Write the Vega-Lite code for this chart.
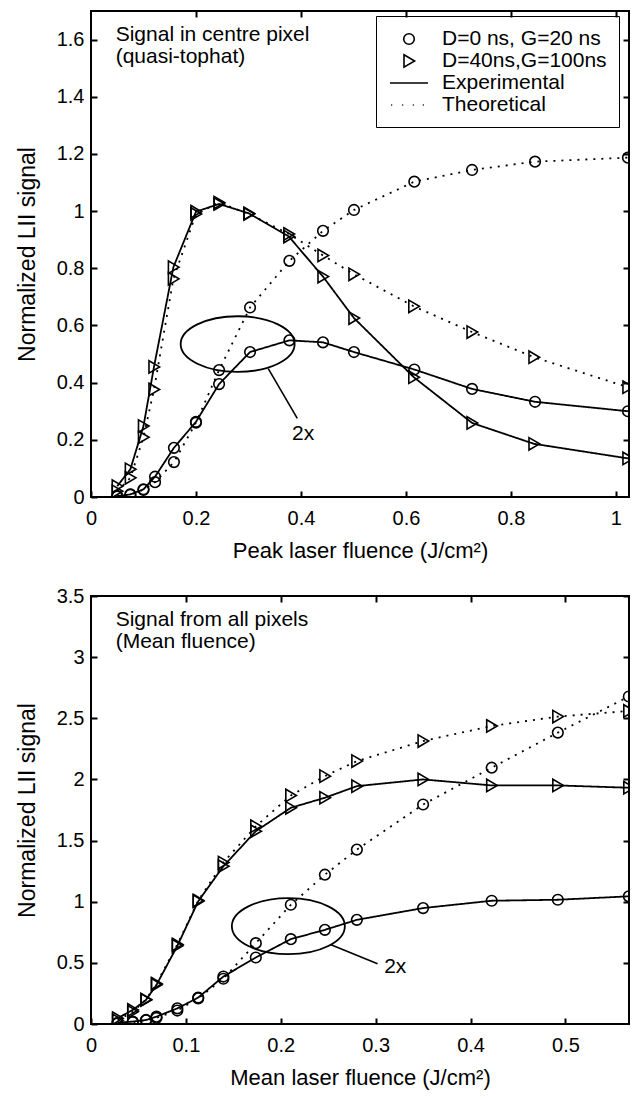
{
  "$schema": "https://vega.github.io/schema/vega-lite/v6.json",
  "background": "white",
  "padding": {"left": 15, "top": 9, "right": 2, "bottom": 4},
  "config": {
    "view": {"stroke": "black", "strokeWidth": 2},
    "font": "Liberation Sans",
    "axis": {"grid": false, "domain": false, "labelColor": "black", "labelFontSize": 20, "labelFont": "Liberation Sans", "titleFont": "Liberation Sans", "titleFontSize": 22, "titleFontWeight": "normal", "titleColor": "black", "labelFlush": false, "labelOverlap": false},
    "text": {"font": "Liberation Sans", "fontSize": 21, "color": "black"}
  },
  "datasets": {
    "top": [
      {"x":0.05,"y":0.003,"s":"A","t":"E"},{"x":0.075,"y":0.009,"s":"A","t":"E"},{"x":0.1,"y":0.027,"s":"A","t":"E"},{"x":0.122,"y":0.071,"s":"A","t":"E"},{"x":0.158,"y":0.172,"s":"A","t":"E"},{"x":0.2,"y":0.263,"s":"A","t":"E"},{"x":0.244,"y":0.395,"s":"A","t":"E"},{"x":0.303,"y":0.507,"s":"A","t":"E"},{"x":0.378,"y":0.548,"s":"A","t":"E"},{"x":0.442,"y":0.541,"s":"A","t":"E"},{"x":0.501,"y":0.507,"s":"A","t":"E"},{"x":0.616,"y":0.446,"s":"A","t":"E"},{"x":0.726,"y":0.378,"s":"A","t":"E"},{"x":0.846,"y":0.333,"s":"A","t":"E"},{"x":1.023,"y":0.3,"s":"A","t":"E"},
      {"x":0.05,"y":0.002,"s":"A","t":"T"},{"x":0.075,"y":0.008,"s":"A","t":"T"},{"x":0.1,"y":0.025,"s":"A","t":"T"},{"x":0.122,"y":0.052,"s":"A","t":"T"},{"x":0.158,"y":0.122,"s":"A","t":"T"},{"x":0.2,"y":0.26,"s":"A","t":"T"},{"x":0.244,"y":0.444,"s":"A","t":"T"},{"x":0.303,"y":0.663,"s":"A","t":"T"},{"x":0.378,"y":0.826,"s":"A","t":"T"},{"x":0.442,"y":0.931,"s":"A","t":"T"},{"x":0.501,"y":1.004,"s":"A","t":"T"},{"x":0.616,"y":1.103,"s":"A","t":"T"},{"x":0.726,"y":1.144,"s":"A","t":"T"},{"x":0.846,"y":1.173,"s":"A","t":"T"},{"x":1.023,"y":1.187,"s":"A","t":"T"},
      {"x":0.05,"y":0.038,"s":"B","t":"E"},{"x":0.075,"y":0.097,"s":"B","t":"E"},{"x":0.1,"y":0.248,"s":"B","t":"E"},{"x":0.12,"y":0.455,"s":"B","t":"E"},{"x":0.157,"y":0.804,"s":"B","t":"E"},{"x":0.2,"y":0.998,"s":"B","t":"E"},{"x":0.244,"y":1.025,"s":"B","t":"E"},{"x":0.301,"y":0.992,"s":"B","t":"E"},{"x":0.377,"y":0.911,"s":"B","t":"E"},{"x":0.442,"y":0.771,"s":"B","t":"E"},{"x":0.501,"y":0.626,"s":"B","t":"E"},{"x":0.615,"y":0.419,"s":"B","t":"E"},{"x":0.726,"y":0.259,"s":"B","t":"E"},{"x":0.844,"y":0.186,"s":"B","t":"E"},{"x":1.023,"y":0.135,"s":"B","t":"E"},
      {"x":0.05,"y":0.02,"s":"B","t":"T"},{"x":0.075,"y":0.067,"s":"B","t":"T"},{"x":0.1,"y":0.209,"s":"B","t":"T"},{"x":0.12,"y":0.376,"s":"B","t":"T"},{"x":0.157,"y":0.763,"s":"B","t":"T"},{"x":0.2,"y":0.99,"s":"B","t":"T"},{"x":0.244,"y":1.03,"s":"B","t":"T"},{"x":0.301,"y":0.99,"s":"B","t":"T"},{"x":0.377,"y":0.92,"s":"B","t":"T"},{"x":0.442,"y":0.845,"s":"B","t":"T"},{"x":0.501,"y":0.779,"s":"B","t":"T"},{"x":0.615,"y":0.667,"s":"B","t":"T"},{"x":0.726,"y":0.577,"s":"B","t":"T"},{"x":0.844,"y":0.489,"s":"B","t":"T"},{"x":1.023,"y":0.384,"s":"B","t":"T"}
    ],
    "bottom": [
      {"x":0.028,"y":0.01,"s":"A","t":"E"},{"x":0.044,"y":0.02,"s":"A","t":"E"},{"x":0.058,"y":0.033,"s":"A","t":"E"},{"x":0.069,"y":0.06,"s":"A","t":"E"},{"x":0.091,"y":0.128,"s":"A","t":"E"},{"x":0.113,"y":0.216,"s":"A","t":"E"},{"x":0.1395,"y":0.388,"s":"A","t":"E"},{"x":0.1737,"y":0.544,"s":"A","t":"E"},{"x":0.2106,"y":0.694,"s":"A","t":"E"},{"x":0.2465,"y":0.77,"s":"A","t":"E"},{"x":0.2802,"y":0.852,"s":"A","t":"E"},{"x":0.35,"y":0.948,"s":"A","t":"E"},{"x":0.4223,"y":1.008,"s":"A","t":"E"},{"x":0.492,"y":1.016,"s":"A","t":"E"},{"x":0.5668,"y":1.044,"s":"A","t":"E"},
      {"x":0.028,"y":0.005,"s":"A","t":"T"},{"x":0.044,"y":0.015,"s":"A","t":"T"},{"x":0.058,"y":0.03,"s":"A","t":"T"},{"x":0.069,"y":0.05,"s":"A","t":"T"},{"x":0.091,"y":0.11,"s":"A","t":"T"},{"x":0.113,"y":0.21,"s":"A","t":"T"},{"x":0.1395,"y":0.37,"s":"A","t":"T"},{"x":0.1737,"y":0.661,"s":"A","t":"T"},{"x":0.2106,"y":0.975,"s":"A","t":"T"},{"x":0.2465,"y":1.221,"s":"A","t":"T"},{"x":0.2802,"y":1.426,"s":"A","t":"T"},{"x":0.35,"y":1.795,"s":"A","t":"T"},{"x":0.4223,"y":2.096,"s":"A","t":"T"},{"x":0.492,"y":2.383,"s":"A","t":"T"},{"x":0.5668,"y":2.678,"s":"A","t":"T"},
      {"x":0.028,"y":0.047,"s":"B","t":"E"},{"x":0.044,"y":0.115,"s":"B","t":"E"},{"x":0.058,"y":0.197,"s":"B","t":"E"},{"x":0.069,"y":0.32,"s":"B","t":"E"},{"x":0.091,"y":0.639,"s":"B","t":"E"},{"x":0.113,"y":1.003,"s":"B","t":"E"},{"x":0.1395,"y":1.29,"s":"B","t":"E"},{"x":0.1737,"y":1.577,"s":"B","t":"E"},{"x":0.2106,"y":1.768,"s":"B","t":"E"},{"x":0.2465,"y":1.85,"s":"B","t":"E"},{"x":0.2802,"y":1.945,"s":"B","t":"E"},{"x":0.35,"y":2.0,"s":"B","t":"E"},{"x":0.4223,"y":1.951,"s":"B","t":"E"},{"x":0.492,"y":1.951,"s":"B","t":"E"},{"x":0.5668,"y":1.932,"s":"B","t":"E"},
      {"x":0.028,"y":0.03,"s":"B","t":"T"},{"x":0.044,"y":0.1,"s":"B","t":"T"},{"x":0.058,"y":0.2,"s":"B","t":"T"},{"x":0.069,"y":0.33,"s":"B","t":"T"},{"x":0.091,"y":0.65,"s":"B","t":"T"},{"x":0.113,"y":1.01,"s":"B","t":"T"},{"x":0.1395,"y":1.32,"s":"B","t":"T"},{"x":0.1737,"y":1.617,"s":"B","t":"T"},{"x":0.2106,"y":1.869,"s":"B","t":"T"},{"x":0.2465,"y":2.027,"s":"B","t":"T"},{"x":0.2802,"y":2.15,"s":"B","t":"T"},{"x":0.35,"y":2.314,"s":"B","t":"T"},{"x":0.4223,"y":2.437,"s":"B","t":"T"},{"x":0.492,"y":2.514,"s":"B","t":"T"},{"x":0.5668,"y":2.56,"s":"B","t":"T"}
    ],
    "topNotes": [
      {"x":0.047,"y":1.616,"txt":"Signal in centre pixel"},
      {"x":0.047,"y":1.539,"txt":"(quasi-tophat)"},
      {"x":0.383,"y":0.219,"txt":"2x"}
    ],
    "bottomNotes": [
      {"x":0.026,"y":3.303,"txt":"Signal from all pixels"},
      {"x":0.026,"y":3.125,"txt":"(Mean fluence)"},
      {"x":0.309,"y":0.463,"txt":"2x"}
    ],
    "topEllipse": [{"x":0.2794,"y":0.535}],
    "topLeader": [{"x":0.3377,"y":0.4488,"x2":0.393,"y2":0.2747}],
    "bottomEllipse": [{"x":0.208,"y":0.8}],
    "bottomLeader": [{"x":0.2529,"y":0.6475,"x2":0.302,"y2":0.492}]
  },
  "resolve": {"scale": {"shape": "independent", "strokeDash": "independent"}, "legend": {"shape": "independent", "strokeDash": "independent"}},
  "spacing": 23,
  "vconcat": [
    {
      "width": 538,
      "height": 486,
      "resolve": {"axis": {"x": "independent", "y": "independent"}},
      "layer": [
        {
          "data": {"name": "top"},
          "mark": {"type": "line", "clip": true, "color": "black", "strokeWidth": 1.8},
          "encoding": {
            "x": {"field": "x", "type": "quantitative", "scale": {"domain": [0, 1.025], "nice": false, "zero": false}, "axis": {"orient": "bottom", "values": [0, 0.2, 0.4, 0.6, 0.8, 1], "format": "~g", "ticks": true, "tickSize": 6, "tickWidth": 2, "tickColor": "black", "offset": -6, "zindex": 2, "labelPadding": 11, "title": "Peak laser fluence (J/cm²)", "titlePadding": 12}},
            "y": {"field": "y", "type": "quantitative", "scale": {"domain": [0, 1.7], "nice": false}, "axis": {"orient": "left", "values": [0, 0.2, 0.4, 0.6, 0.8, 1, 1.2, 1.4, 1.6], "format": "~g", "ticks": true, "tickSize": 6, "tickWidth": 2, "tickColor": "black", "offset": -6, "zindex": 2, "labelPadding": 7, "title": "Normalized LII signal", "titleFontSize": 23, "titlePadding": 17}},
            "detail": {"field": "s"},
            "strokeDash": {"field": "t", "type": "nominal", "scale": {"domain": ["E", "T"], "range": [[1, 0], [2, 6]]}, "legend": null}
          }
        },
        {
          "data": {"name": "top"},
          "mark": {"type": "point", "clip": true, "filled": false, "color": "black", "size": 400, "strokeWidth": 1.6, "opacity": 1},
          "encoding": {
            "x": {"field": "x", "type": "quantitative", "axis": {"orient": "top", "values": [0.2, 0.4, 0.6, 0.8, 1], "labels": false, "title": null, "ticks": true, "tickSize": 6, "tickWidth": 2, "tickColor": "black", "offset": -6, "zindex": 2}},
            "y": {"field": "y", "type": "quantitative", "axis": {"orient": "right", "values": [0.2, 0.4, 0.6, 0.8, 1, 1.2, 1.4, 1.6], "labels": false, "title": null, "ticks": true, "tickSize": 6, "tickWidth": 2, "tickColor": "black", "offset": -6, "zindex": 2}},
            "shape": {
              "field": "s", "type": "nominal",
              "scale": {"domain": ["A", "B", "E", "T"], "range": ["M-0.53,0A0.53,0.53,0,1,0,0.53,0A0.53,0.53,0,1,0,-0.53,0", "M-0.5,-0.62L0.56,0L-0.5,0.62Z", "M-1.9,0L1.9,0", "M-1.78,0L-1.68,0M-0.68,0L-0.58,0M0.38,0L0.48,0M1.38,0L1.48,0"]},
              "legend": {"title": null, "orient": "none", "legendX": 285, "legendY": 5, "labelExpr": "datum.label == 'A' ? 'D=0 ns, G=20 ns' : datum.label == 'B' ? 'D=40ns,G=100ns' : datum.label == 'E' ? 'Experimental' : 'Theoretical'", "symbolSize": 400, "symbolStrokeWidth": 1.6, "symbolStrokeColor": "black", "symbolFillColor": "transparent", "symbolOffset": 10, "labelOffset": 22, "labelFontSize": 21, "labelFont": "Liberation Sans", "labelColor": "black", "labelLimit": 0, "padding": 12, "rowPadding": 1, "strokeColor": "black", "fillColor": "white"}
            }
          }
        },
        {
          "data": {"name": "topEllipse"},
          "mark": {"type": "point", "filled": false, "color": "black", "strokeWidth": 1.8, "opacity": 1, "size": 12996, "shape": "M-1,0A1,0.488,0,1,1,1,0A1,0.488,0,1,1,-1,0"},
          "encoding": {"x": {"field": "x", "type": "quantitative", "axis": null}, "y": {"field": "y", "type": "quantitative", "axis": null}}
        },
        {
          "data": {"name": "topLeader"},
          "mark": {"type": "rule", "color": "black", "strokeWidth": 1.6},
          "encoding": {"x": {"field": "x", "type": "quantitative", "axis": null}, "y": {"field": "y", "type": "quantitative", "axis": null}, "x2": {"field": "x2"}, "y2": {"field": "y2"}}
        },
        {
          "data": {"name": "topNotes"},
          "mark": {"type": "text", "align": "left", "baseline": "middle", "fontSize": 21},
          "encoding": {"x": {"field": "x", "type": "quantitative", "axis": null}, "y": {"field": "y", "type": "quantitative", "axis": null}, "text": {"field": "txt"}}
        }
      ]
    },
    {
      "width": 538,
      "height": 428,
      "resolve": {"axis": {"x": "independent", "y": "independent"}},
      "layer": [
        {
          "data": {"name": "bottom"},
          "mark": {"type": "line", "clip": true, "color": "black", "strokeWidth": 1.8},
          "encoding": {
            "x": {"field": "x", "type": "quantitative", "scale": {"domain": [0, 0.567], "nice": false, "zero": false}, "axis": {"orient": "bottom", "values": [0, 0.1, 0.2, 0.3, 0.4, 0.5], "format": "~g", "ticks": true, "tickSize": 6, "tickWidth": 2, "tickColor": "black", "offset": -6, "zindex": 2, "labelPadding": 11, "title": "Mean laser fluence (J/cm²)", "titlePadding": 12}},
            "y": {"field": "y", "type": "quantitative", "scale": {"domain": [0, 3.5], "nice": false}, "axis": {"orient": "left", "values": [0, 0.5, 1, 1.5, 2, 2.5, 3, 3.5], "format": "~g", "ticks": true, "tickSize": 6, "tickWidth": 2, "tickColor": "black", "offset": -6, "zindex": 2, "labelPadding": 7, "title": "Normalized LII signal", "titleFontSize": 23, "titlePadding": 17}},
            "detail": {"field": "s"},
            "strokeDash": {"field": "t", "type": "nominal", "scale": {"domain": ["E", "T"], "range": [[1, 0], [2, 6]]}, "legend": null}
          }
        },
        {
          "data": {"name": "bottom"},
          "mark": {"type": "point", "clip": true, "filled": false, "color": "black", "size": 400, "strokeWidth": 1.6, "opacity": 1},
          "encoding": {
            "x": {"field": "x", "type": "quantitative", "axis": {"orient": "top", "values": [0.1, 0.2, 0.3, 0.4, 0.5], "labels": false, "title": null, "ticks": true, "tickSize": 6, "tickWidth": 2, "tickColor": "black", "offset": -6, "zindex": 2}},
            "y": {"field": "y", "type": "quantitative", "axis": {"orient": "right", "values": [0.5, 1, 1.5, 2, 2.5, 3, 3.5], "labels": false, "title": null, "ticks": true, "tickSize": 6, "tickWidth": 2, "tickColor": "black", "offset": -6, "zindex": 2}},
            "shape": {
              "field": "s", "type": "nominal",
              "scale": {"domain": ["A", "B"], "range": ["M-0.53,0A0.53,0.53,0,1,0,0.53,0A0.53,0.53,0,1,0,-0.53,0", "M-0.5,-0.62L0.56,0L-0.5,0.62Z"]},
              "legend": null
            }
          }
        },
        {
          "data": {"name": "bottomEllipse"},
          "mark": {"type": "point", "filled": false, "color": "black", "strokeWidth": 1.8, "opacity": 1, "size": 12769, "shape": "M-1,0A1,0.496,0,1,1,1,0A1,0.496,0,1,1,-1,0"},
          "encoding": {"x": {"field": "x", "type": "quantitative", "axis": null}, "y": {"field": "y", "type": "quantitative", "axis": null}}
        },
        {
          "data": {"name": "bottomLeader"},
          "mark": {"type": "rule", "color": "black", "strokeWidth": 1.6},
          "encoding": {"x": {"field": "x", "type": "quantitative", "axis": null}, "y": {"field": "y", "type": "quantitative", "axis": null}, "x2": {"field": "x2"}, "y2": {"field": "y2"}}
        },
        {
          "data": {"name": "bottomNotes"},
          "mark": {"type": "text", "align": "left", "baseline": "middle", "fontSize": 21},
          "encoding": {"x": {"field": "x", "type": "quantitative", "axis": null}, "y": {"field": "y", "type": "quantitative", "axis": null}, "text": {"field": "txt"}}
        }
      ]
    }
  ]
}
